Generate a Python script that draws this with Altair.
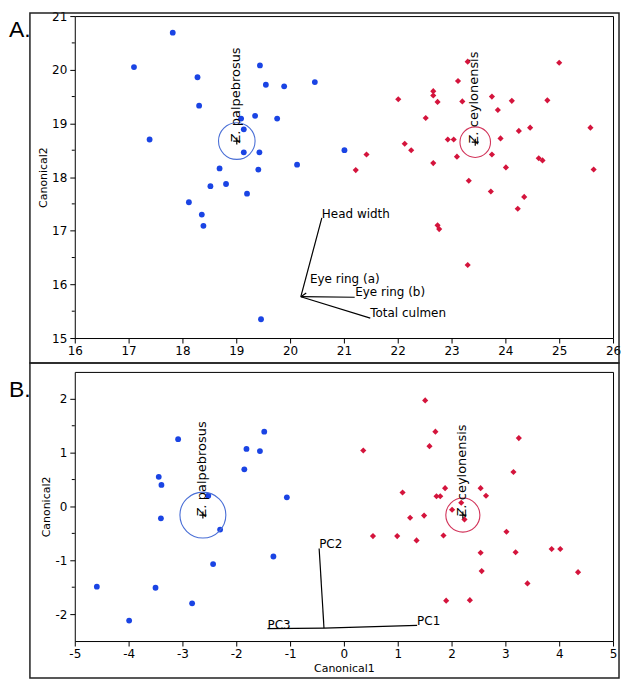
import altair as alt
import pandas as pd

# ---------------- Panel A data ----------------
a_blue_x = [17.82, 17.10, 18.28, 18.31, 17.39, 19.44, 19.55, 19.89, 20.46, 19.09, 19.35, 19.76, 19.14,
            19.14, 19.43, 18.69, 19.41, 20.13, 18.52, 18.81, 19.20, 18.12, 18.36, 18.39, 19.46, 21.01]
a_blue_y = [20.69, 20.05, 19.86, 19.33, 18.70, 20.08, 19.72, 19.69, 19.77, 19.09, 19.14, 19.09, 18.89,
            18.46, 18.46, 18.16, 18.14, 18.23, 17.83, 17.87, 17.69, 17.53, 17.30, 17.09, 15.35, 18.50]
a_red_x = [23.30, 25.00, 23.12, 22.01, 22.66, 22.66, 22.74, 23.20, 23.75, 24.12, 24.78, 23.86, 22.52,
           24.46, 25.58, 24.25, 22.93, 23.04, 23.91, 22.13, 22.25, 21.42, 23.10, 23.75, 24.62, 24.69,
           21.22, 22.66, 24.01, 25.64, 23.32, 23.73, 24.35, 24.23, 22.74, 22.77, 23.30]
a_red_y = [20.15, 20.13, 19.79, 19.45, 19.60, 19.52, 19.40, 19.41, 19.50, 19.42, 19.43, 19.25, 19.10,
           18.92, 18.92, 18.86, 18.70, 18.70, 18.72, 18.62, 18.50, 18.42, 18.38, 18.42, 18.35, 18.31,
           18.13, 18.26, 18.18, 18.14, 17.93, 17.73, 17.63, 17.41, 17.10, 17.03, 16.36]
a_center_x = [19.01, 23.44]
a_center_y = [18.67, 18.65]
a_ray_names = ["Head width", "Eye ring (a)", "Eye ring (b)", "Total culmen"]
a_ray_x0 = [20.20, 20.20, 20.20, 20.20]
a_ray_y0 = [15.77, 15.77, 15.77, 15.77]
a_ray_x1 = [20.59, 20.30, 21.20, 21.49]
a_ray_y1 = [17.24, 15.84, 15.76, 15.37]
a_label_x = [20.59, 20.37, 21.21, 21.49]
a_label_y = [17.24, 16.03, 15.78, 15.39]
a_xticks = [16, 17, 18, 19, 20, 21, 22, 23, 24, 25, 26]
a_yticks = [15, 16, 17, 18, 19, 20, 21]
a_yminor = [15.5, 16.5, 17.5, 18.5, 19.5, 20.5]

# ---------------- Panel B data ----------------
b_blue_x = [-3.08, -1.48, -1.81, -1.56, -1.85, -3.44, -3.39, -2.52, -1.06, -3.40, -2.30, -1.31, -2.43,
            -4.59, -3.50, -2.82, -3.99]
b_blue_y = [1.25, 1.39, 1.07, 1.03, 0.69, 0.55, 0.40, 0.20, 0.17, -0.22, -0.43, -0.93, -1.07,
            -1.49, -1.51, -1.80, -2.12]
b_red_x = [1.51, 1.70, 1.59, 0.36, 3.25, 3.15, 1.09, 1.88, 2.54, 2.64, 1.72, 1.79, 2.18, 2.01, 2.24,
           1.23, 1.49, 0.54, 0.99, 1.35, 1.85, 3.02, 2.54, 3.19, 3.86, 4.02, 2.56, 4.35, 3.41, 1.90, 2.34]
b_red_y = [1.97, 1.39, 1.12, 1.04, 1.27, 0.64, 0.26, 0.34, 0.34, 0.20, 0.19, 0.19, 0.07, -0.06, -0.24,
           -0.21, -0.17, -0.55, -0.55, -0.63, -0.54, -0.47, -0.86, -0.85, -0.79, -0.79, -1.20, -1.22,
           -1.43, -1.75, -1.74]
b_center_x = [-2.62, 2.21]
b_center_y = [-0.16, -0.16]
b_ray_names = ["PC1", "PC2", "PC3"]
b_ray_x0 = [-0.37, -0.37, -0.37]
b_ray_y0 = [-2.26, -2.26, -2.26]
b_ray_x1 = [1.36, -0.46, -1.42]
b_ray_y1 = [-2.21, -0.78, -2.27]
b_xticks = [-5, -4, -3, -2, -1, 0, 1, 2, 3, 4, 5]
b_yticks = [-2, -1, 0, 1, 2]
b_yminor = [-1.5, -0.5, 0.5, 1.5]

genus = ["Z.", "Z."]
epithet = ["palpebrosus", "ceylonensis"]

BLUE = "#1a44e4"
RED = "#d4143c"
BLUE_C = "#4a6fd6"
RED_C = "#d2345a"
FONT = "DejaVu Sans"
W = 540


def panel(letter, letter_y, frame, bx, by, rx, ry, cx, cy, circle_sizes, rays, labels, xdom, ydom,
          xticks, yticks, yminor, h, xtitle):
    xs = alt.Scale(domain=xdom, nice=False, zero=False)
    ys = alt.Scale(domain=ydom, nice=False, zero=False)
    xaxis = alt.Axis(values=xticks, title=xtitle, labelFlush=False,
                     labelExpr="replace(datum.label, '\u2212', '-')")
    yaxis = alt.Axis(values=yticks, title="Canonical2", labelFlush=False,
                     labelExpr="replace(datum.label, '\u2212', '-')")
    X = lambda f: alt.X(f, type="quantitative", scale=xs, axis=xaxis)
    Y = lambda f: alt.Y(f, type="quantitative", scale=ys, axis=yaxis)

    blue = pd.DataFrame({"x": bx, "y": by})
    red = pd.DataFrame({"x": rx, "y": ry})
    cen = pd.DataFrame({"x": cx, "y": cy, "genus": genus, "epithet": epithet})
    ray = pd.DataFrame(rays)
    lab = pd.DataFrame(labels)
    minor = pd.DataFrame({"y": yminor})
    one = pd.DataFrame({"k": [0]})

    fx1, fx2, fy1, fy2 = frame
    layers = []
    layers.append(alt.Chart(one).mark_rect(fillOpacity=0, stroke="#222", strokeWidth=1.5).encode(
        x=alt.value(fx1), x2=alt.value(fx2), y=alt.value(fy1), y2=alt.value(fy2)))
    layers.append(alt.Chart(one).mark_text(align="left", baseline="alphabetic", fontSize=23,
                                           font="Liberation Sans", color="black").encode(
        x=alt.value(-66), y=alt.value(letter_y), text=alt.value(letter)))
    layers.append(alt.Chart(blue).mark_point(shape="circle", filled=True, size=34, color=BLUE, opacity=1)
                  .encode(x=X("x"), y=Y("y")))
    layers.append(alt.Chart(red).mark_point(shape="diamond", filled=True, size=38, color=RED, opacity=1)
                  .encode(x=X("x"), y=Y("y")))
    for i, (s, col) in enumerate(zip(circle_sizes, [BLUE_C, RED_C])):
        layers.append(alt.Chart(cen.iloc[[i]]).mark_point(shape="circle", filled=False, size=s, color=col,
                                                          strokeWidth=1.1, opacity=1)
                      .encode(x=X("x"), y=Y("y")))
    layers.append(alt.Chart(cen).mark_point(shape="M-1,0H1M0,-1V1", filled=False, size=50, color="black",
                                            strokeWidth=1.2, opacity=1).encode(x=X("x"), y=Y("y")))
    layers.append(alt.Chart(cen).mark_text(angle=270, align="left", baseline="alphabetic", dx=-2, dy=3,
                                           fontSize=13, font=FONT, fontStyle="italic", color="black")
                  .encode(x=X("x"), y=Y("y"), text="genus:N"))
    layers.append(alt.Chart(cen).mark_text(angle=270, align="left", baseline="alphabetic", dx=15, dy=3,
                                           fontSize=13, font=FONT, color="black")
                  .encode(x=X("x"), y=Y("y"), text="epithet:N"))
    layers.append(alt.Chart(ray).mark_rule(color="black", strokeWidth=1.2)
                  .encode(x=X("x0"), y=Y("y0"), x2="x1:Q", y2="y1:Q"))
    layers.append(alt.Chart(lab).mark_text(align="left", baseline="alphabetic", fontSize=12, font=FONT,
                                           color="black")
                  .encode(x=X("lx"), y=Y("ly"), text="name:N"))
    layers.append(alt.Chart(minor).mark_rule(color="black", strokeWidth=1)
                  .encode(y=Y("y"), x=alt.value(-3), x2=alt.value(0)))
    return alt.layer(*layers).properties(width=W, height=h)


top = panel("A.", 21, (-45, 546, -3, 348),
            a_blue_x, a_blue_y, a_red_x, a_red_y, a_center_x, a_center_y, [1346, 940],
            {"name": a_ray_names, "x0": a_ray_x0, "y0": a_ray_y0, "x1": a_ray_x1, "y1": a_ray_y1},
            {"name": a_ray_names, "lx": a_label_x, "ly": a_label_y},
            [16, 26], [15, 21], a_xticks, a_yticks, a_yminor, 323, None)

bottom = panel("B.", 25, (-45, 546, -9, 307),
               b_blue_x, b_blue_y, b_red_x, b_red_y, b_center_x, b_center_y, [2124, 1170],
               {"name": b_ray_names, "x0": b_ray_x0, "y0": b_ray_y0, "x1": b_ray_x1, "y1": b_ray_y1},
               {"name": b_ray_names, "lx": b_ray_x1, "ly": b_ray_y1},
               [-5, 5], [-2.5, 2.5], b_xticks, b_yticks, b_yminor, 270, "Canonical1")

chart = alt.vconcat(top, bottom, spacing=34, bounds="flush").properties(
    padding=0, background="white"
).configure_view(
    stroke="black", strokeWidth=1
).configure_axis(
    grid=False, domain=False, ticks=True, tickColor="black", tickSize=5, tickWidth=1,
    labelFont=FONT, labelFontSize=12, labelColor="black", labelPadding=3,
    titleFont=FONT, titleFontSize=11, titleFontWeight="normal", titleColor="black", titlePadding=3
)

chart.save("out.html", embed_options={"renderer": "svg", "actions": False})
